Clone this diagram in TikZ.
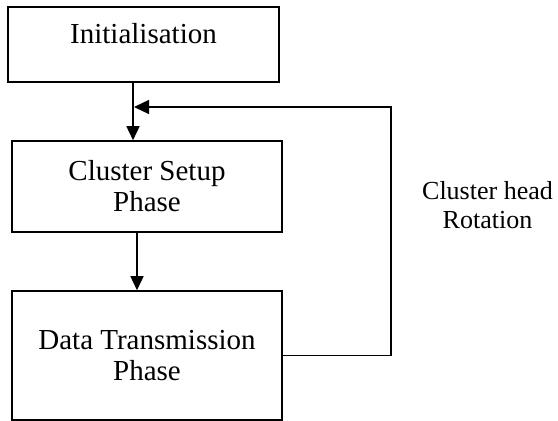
\documentclass[tikz,border=0pt]{standalone}
\usepackage{fontspec}
\setmainfont{Liberation Serif}
\usetikzlibrary{arrows.meta}

\tikzset{
  phasebox/.style={draw, line width=1.6pt, rectangle, align=center,
    inner sep=0pt, font=\fontsize{29}{31}\selectfont},
  flow/.style={line width=1.6pt, -{Triangle[length=14pt,width=13pt]}},
  loopline/.style={line width=1.3pt, -{Triangle[length=15pt,width=14pt]}},
  note/.style={align=center, inner sep=0pt, font=\fontsize{26}{29}\selectfont}
}

\begin{document}
\begin{tikzpicture}[x=1pt,y=-1pt]
  \useasboundingbox (0,0) rectangle (558,421);

  % the three phases
  \node[phasebox, minimum width=271pt, minimum height=75pt,
        text height=19pt, text depth=22pt] (init) at (143.5,44.5) {Initialisation};
  \node[phasebox, minimum width=270pt, minimum height=91pt] (setup) at (147,186.5)
        {Cluster Setup\\Phase};
  \node[phasebox, minimum width=270pt, minimum height=129pt] (data) at (147,355.5)
        {Data Transmission\\Phase};

  % columns of the downward arrows and corner of the return loop
  \coordinate (c1) at (133,0);
  \coordinate (c2) at (137,0);
  \coordinate (corner) at (391,107);

  \draw[flow] (init.south -| c1) -- (setup.north -| c1);
  \draw[flow] (setup.south -| c2) -- (data.north -| c2);

  % return loop from data transmission back to setup
  \draw[loopline] (data.east) -| (corner) -- ([xshift=1pt]corner -| c1);

  \node[note] (rot) at (487.5,205) {Cluster head\\Rotation};
\end{tikzpicture}
\end{document}
